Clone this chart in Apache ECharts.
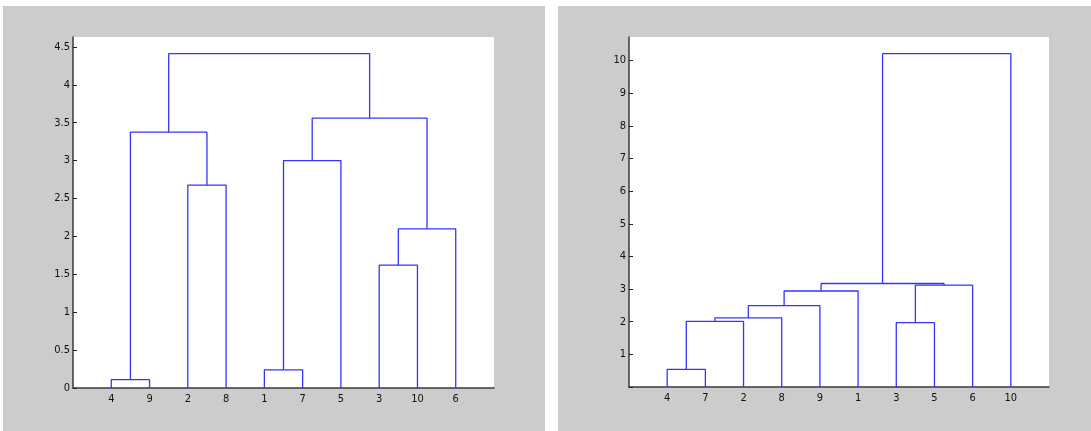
<!DOCTYPE html>
<html>
<head>
<meta charset="utf-8">
<script src="https://cdn.jsdelivr.net/npm/echarts@6/dist/echarts.min.js"></script>
<style>
  html, body { margin: 0; padding: 0; background: #fff; }
  .panel { position: absolute; top: 6px; height: 425px; background: #cccccc; }
  #left  { left: 3px;   width: 542px; }
  #right { left: 558px; width: 533px; }
</style>
</head>
<body>
<div id="left" class="panel"></div>
<div id="right" class="panel"></div>
<script>
// leaf order along x, merges (MATLAB-style ids: leaves 1..10, clusters 11..), merge heights
const leftLeafOrder = [4, 9, 2, 8, 1, 7, 5, 3, 10, 6];
const leftMergeA    = [4, 1, 3, 13, 2, 12, 11, 16, 17];
const leftMergeB    = [9, 7, 10, 6, 8, 5, 15, 14, 18];
const leftHeights   = [0.11, 0.24, 1.62, 2.10, 2.675, 3.0, 3.375, 3.56, 4.41];

const rightLeafOrder = [4, 7, 2, 8, 9, 1, 3, 5, 6, 10];
const rightMergeA    = [4, 3, 11, 13, 14, 15, 12, 16, 18];
const rightMergeB    = [7, 5, 2, 8, 9, 1, 6, 17, 10];
const rightHeights   = [0.54, 1.97, 2.01, 2.12, 2.49, 2.94, 3.12, 3.17, 10.21];

const LINE = '#3434ff';
const AXIS = '#3a3a3a';
const FONT = "'Liberation Sans Narrow', 'DejaVu Sans Condensed', Arial, sans-serif";

// build the U-shaped links of a dendrogram; node x = mean of its children
function dendroSeries(order, mA, mB, hs) {
  const n = order.length;
  const pos = {}, hgt = {};
  order.forEach((leaf, i) => { pos[leaf] = i + 1; hgt[leaf] = 0; });
  const series = [];
  for (let k = 0; k < mA.length; k++) {
    const a = mA[k], b = mB[k], h = hs[k], id = n + 1 + k;
    series.push({
      type: 'line', silent: true, showSymbol: false, animation: false,
      lineStyle: { color: LINE, width: 1.3 },
      data: [[pos[a], hgt[a]], [pos[a], h], [pos[b], h], [pos[b], hgt[b]]]
    });
    pos[id] = (pos[a] + pos[b]) / 2;
    hgt[id] = h;
  }
  return series;
}

function makeChart(domId, order, mA, mB, hs, grid, yMax, yStep, hideZero) {
  const chart = echarts.init(document.getElementById(domId), null, { renderer: 'canvas' });
  chart.setOption({
    backgroundColor: 'transparent',
    animation: false,
    grid: Object.assign({ show: true, backgroundColor: '#fff', borderWidth: 0 }, grid),
    xAxis: {
      type: 'value', min: 0, max: order.length + 1, interval: 1,
      axisLine: { show: true, lineStyle: { color: AXIS, width: 1.5 } },
      axisTick: { show: false },
      splitLine: { show: false },
      axisLabel: {
        margin: 6, color: '#111', fontFamily: FONT, fontSize: 11,
        formatter: v => (v >= 1 && v <= order.length) ? String(order[v - 1]) : ''
      }
    },
    yAxis: {
      type: 'value', min: 0, max: yMax, interval: yStep,
      axisLine: { show: true, onZero: false, lineStyle: { color: AXIS, width: 1.5 } },
      axisTick: { show: true, inside: true, length: 4, lineStyle: { color: '#222' } },
      splitLine: { show: false },
      axisLabel: {
        margin: 3, color: '#111', fontFamily: FONT, fontSize: 11, showMaxLabel: false,
        formatter: v => (hideZero && v === 0) ? '' : (v > yMax - 0.05 ? '' : String(v))
      }
    },
    series: dendroSeries(order, mA, mB, hs)
  });
  return chart;
}

makeChart('left', leftLeafOrder, leftMergeA, leftMergeB, leftHeights,
  { left: 70, top: 31, width: 421, height: 351 }, 4.63, 0.5, false);
makeChart('right', rightLeafOrder, rightMergeA, rightMergeB, rightHeights,
  { left: 71, top: 31, width: 420, height: 350 }, 10.72, 1, true);
</script>
</body>
</html>
